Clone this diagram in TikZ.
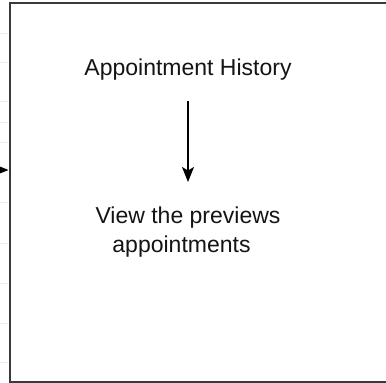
\documentclass[tikz,border=0pt]{standalone}
\usepackage{fontspec}
\setmainfont{Liberation Sans}
\usetikzlibrary{arrows.meta}
\definecolor{framegray}{HTML}{3A3A3A}
\definecolor{inkdark}{HTML}{141414}
\definecolor{gridfaint}{HTML}{EDEDED}
\tikzset{
  label text/.style={text=inkdark, font=\fontsize{23}{29}\selectfont, inner sep=0pt},
  flow/.style={draw=black, line width=1.4pt, -{Stealth[length=15pt,width=12pt,inset=3.5pt]}},
}
\begin{document}
\begin{tikzpicture}[x=1pt,y=-1pt]
  \useasboundingbox (0,0) rectangle (386,383);
  \fill[white] (0,0) rectangle (386,383);
  % faint canvas grid left of the frame
  \foreach \gy in {33,62,101,122,142,202,243,283,323,362}
    \draw[gridfaint, line width=0.8pt] (0,\gy) -- (8,\gy);
  % outer frame (runs past the right edge)
  \begin{scope}
    \clip (0,0) rectangle (386,383);
    \node[draw=framegray, line width=2pt, minimum width=400pt, minimum height=379pt,
          anchor=north west, inner sep=0pt] (frame) at (8.5,2) {};
    % incoming connector from the left
    \coordinate (src) at (-30,170);
    \coordinate (inlet) at (frame.west |- src);
    \draw[flow] (src) -- (inlet);
  \end{scope}
  % contents
  \node[label text, anchor=base] (hist) at (188,75.5) {Appointment History};
  \node[label text, anchor=north, align=center] (view) at (188,207)
    {View the previews\\appointments\hspace*{13pt}};
  \coordinate (flowtop) at (188,101);
  \coordinate (flowend) at (188,182);
  \draw[flow] (flowtop) -- (flowend);
\end{tikzpicture}
\end{document}
